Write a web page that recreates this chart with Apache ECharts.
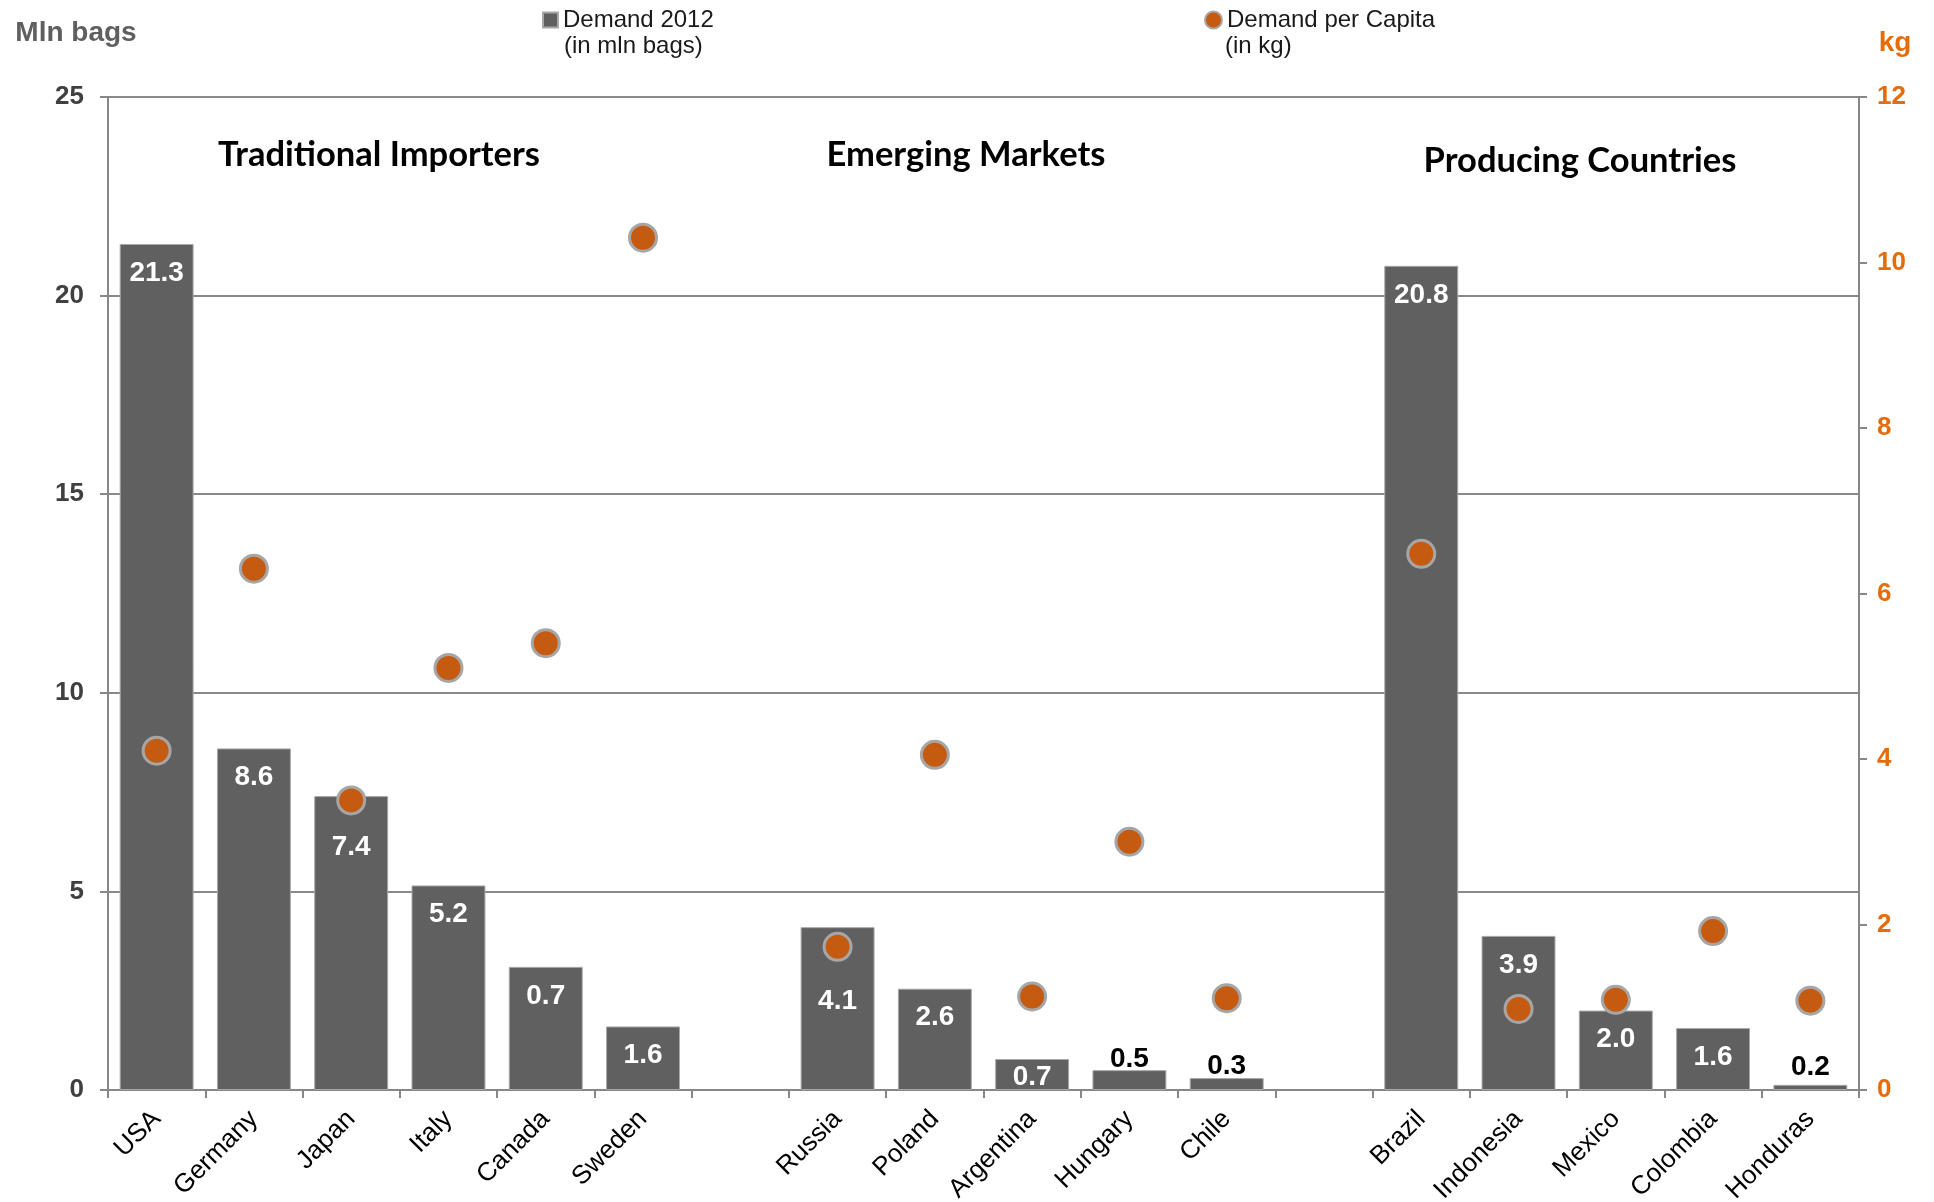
<!DOCTYPE html>
<html>
<head>
<meta charset="utf-8">
<script src="https://cdn.jsdelivr.net/npm/echarts@6/dist/echarts.min.js"></script>
<style>
html,body{margin:0;padding:0;background:#fff;}
#chart{width:1934px;height:1202px;}
</style>
</head>
<body>
<div id="chart"></div>
<script>
// ---- data ----
const categories = ['USA','Germany','Japan','Italy','Canada','Sweden','','Russia','Poland','Argentina','Hungary','Chile','','Brazil','Indonesia','Mexico','Colombia','Honduras'];
const demand2012 = [21.3, 8.6, 7.4, 5.15, 3.1, 1.6, null, 4.1, 2.55, 0.78, 0.5, 0.3, null, 20.75, 3.88, 2.0, 1.56, 0.13];
const demandLabels = ['21.3','8.6','7.4','5.2','0.7','1.6','','4.1','2.6','0.7','0.5','0.3','','20.8','3.9','2.0','1.6','0.2'];
const perCapita = [4.1, 6.3, 3.5, 5.1, 5.4, 10.3, null, 1.73, 4.05, 1.13, 3.0, 1.11, null, 6.48, 0.98, 1.09, 1.92, 1.08];
const groupTitles = ['Traditional Importers','Emerging Markets','Producing Countries'];
const seriesNames = ['Demand 2012', 'Demand per Capita'];
const seriesUnits = ['(in mln bags)', '(in kg)'];
const leftAxisName = 'Mln bags';
const rightAxisName = 'kg';

// ---- styling ----
const labelTweaks = {
  Japan: {distance: 37},
  Russia: {distance: 60},
  Argentina: {position: 'inside', offset: [0, 3]},
  Hungary: {position: 'top', color: '#000', distance: -3},
  Chile: {position: 'top', color: '#000', distance: -2},
  Honduras: {position: 'top', color: '#000', distance: 4}
};

const barData = demand2012.map((v, i) => {
  if (v === null) return '-';
  const t = labelTweaks[categories[i]] || {};
  return {
    value: v,
    label: Object.assign({position: 'insideTop', distance: 15, color: '#fff'}, t)
  };
});
const dotData = perCapita.map(v => v === null ? '-' : v);

const chart = echarts.init(document.getElementById('chart'), null, {renderer: 'canvas'});
const option = {
  animation: false,
  backgroundColor: '#fff',
  textStyle: {fontFamily: 'Liberation Sans, Arial, sans-serif'},
  grid: {left: 108, right: 75, top: 97, bottom: 112, containLabel: false, outerBoundsMode: 'none'},
  legend: [
    {
      data: [seriesNames[0]], left: 537, top: 3, icon: 'rect', itemWidth: 15, itemHeight: 15,
      textStyle: {fontSize: 24, color: '#1a1a1a', fontFamily: 'Liberation Sans'}
    },
    {
      data: [seriesNames[1]], left: 1199, top: 3, icon: 'circle', itemWidth: 17, itemHeight: 17,
      textStyle: {fontSize: 24, color: '#1a1a1a', fontFamily: 'Liberation Sans'}
    }
  ],
  graphic: [
    {type: 'text', left: 564, top: 34, style: {text: seriesUnits[0], font: '24px "Liberation Sans"', fill: '#1a1a1a'}},
    {type: 'text', left: 1225, top: 34, style: {text: seriesUnits[1], font: '24px "Liberation Sans"', fill: '#1a1a1a'}},
    {type: 'text', x: 379, y: 155, style: {text: groupTitles[0], font: 'bold 34.5px Lato', fill: '#000', align: 'center', verticalAlign: 'middle'}},
    {type: 'text', x: 966, y: 155, style: {text: groupTitles[1], font: 'bold 34.5px Lato', fill: '#000', align: 'center', verticalAlign: 'middle'}},
    {type: 'text', x: 1580, y: 161, style: {text: groupTitles[2], font: 'bold 34.5px Lato', fill: '#000', align: 'center', verticalAlign: 'middle'}}
  ],
  xAxis: {
    type: 'category',
    data: categories,
    boundaryGap: true,
    axisLine: {lineStyle: {color: '#878787', width: 2}},
    axisTick: {show: true, interval: 0, length: 8, lineStyle: {color: '#878787', width: 2}},
    axisLabel: {interval: 0, rotate: 45, margin: 25, fontSize: 26, color: '#000', fontFamily: 'Liberation Sans'},
    splitLine: {show: false}
  },
  yAxis: [
    {
      type: 'value', min: 0, max: 25, interval: 5, position: 'left',
      name: leftAxisName, nameLocation: 'end', nameGap: 50,
      nameTextStyle: {fontSize: 28, fontWeight: 'bold', color: '#5f5f5f', align: 'center', padding: [0, 64, 0, 0], fontFamily: 'Liberation Sans'},
      axisLine: {show: true, lineStyle: {color: '#878787', width: 2}},
      axisTick: {show: true, length: 8, lineStyle: {color: '#878787', width: 2}},
      axisLabel: {fontSize: 26, fontWeight: 'bold', color: '#404040', margin: 24, fontFamily: 'Liberation Sans'},
      splitLine: {show: true, lineStyle: {color: '#898989', width: 2}}
    },
    {
      type: 'value', min: 0, max: 12, interval: 2, position: 'right',
      name: rightAxisName, nameLocation: 'end', nameGap: 40,
      nameTextStyle: {fontSize: 28, fontWeight: 'bold', color: '#E46C0A', align: 'center', padding: [0, 0, 0, 72], fontFamily: 'Liberation Sans'},
      axisLine: {show: true, lineStyle: {color: '#878787', width: 2}},
      axisTick: {show: true, length: 8, lineStyle: {color: '#878787', width: 2}},
      axisLabel: {fontSize: 26, fontWeight: 'bold', color: '#E46C0A', margin: 18, fontFamily: 'Liberation Sans'},
      splitLine: {show: false}
    }
  ],
  series: [
    {
      name: seriesNames[0],
      type: 'bar',
      yAxisIndex: 0,
      data: barData,
      barCategoryGap: '24%',
      itemStyle: {color: '#606060', borderColor: '#a8a8a8', borderWidth: 1},
      label: {
        show: true, fontSize: 28, fontWeight: 'bold', fontFamily: 'Liberation Sans',
        formatter: p => demandLabels[p.dataIndex]
      },
      z: 2
    },
    {
      name: seriesNames[1],
      type: 'scatter',
      yAxisIndex: 1,
      data: dotData,
      symbol: 'circle',
      symbolSize: 27,
      itemStyle: {color: '#C55A11', borderColor: '#A6A6A6', borderWidth: 3, opacity: 1},
      z: 5
    }
  ]
};
chart.setOption(option);
</script>
</body>
</html>
